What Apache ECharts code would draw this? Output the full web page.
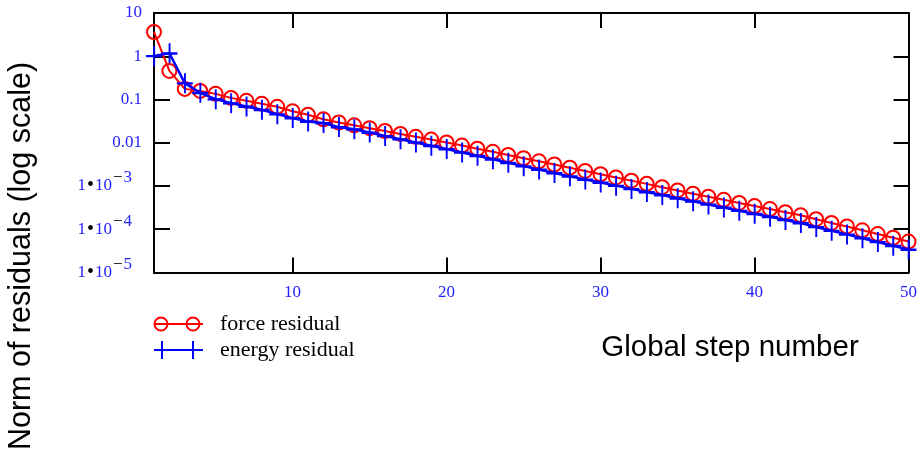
<!DOCTYPE html>
<html>
<head>
<meta charset="utf-8">
<script src="https://cdn.jsdelivr.net/npm/echarts@6/dist/echarts.min.js"></script>
<style>html,body{margin:0;padding:0;background:#fff;}#c{width:923px;height:452px;}</style>
</head>
<body>
<div id="c"></div>
<script>
// ---- data ----
var steps = [1,2,3,4,5,6,7,8,9,10,11,12,13,14,15,16,17,18,19,20,21,22,23,24,25,26,27,28,29,30,31,32,33,34,35,36,37,38,39,40,41,42,43,44,45,46,47,48,49,50];
var forceResidual = [3.64,0.458,0.176,0.158,0.135,0.109,0.0931,0.0794,0.0678,0.0533,
  0.0443,0.0348,0.0294,0.0253,0.0217,0.0187,0.0160,0.0137,0.01185,0.01016,
  0.00861,0.00726,0.00617,0.00522,0.00438,0.00372,0.00314,0.00265,0.00223,0.00187,
  0.00158,0.00133,0.00112,0.000940,0.000789,0.000665,0.000564,0.000479,0.000406,0.000344,
  0.000293,0.000248,0.000210,0.000171,0.000140,0.000116,0.0000946,0.0000773,0.0000635,0.0000519];
var energyResidual = [1.02,1.17,0.239,0.143,0.102,0.0824,0.0689,0.0577,0.0459,0.0371,
  0.0310,0.0285,0.0230,0.0205,0.01718,0.01441,0.01210,0.01016,0.00853,0.00716,
  0.00597,0.00498,0.00414,0.00345,0.00288,0.00241,0.00200,0.00167,0.00141,0.00120,
  0.00102,0.000857,0.000727,0.000617,0.000521,0.000442,0.000374,0.000318,0.000269,0.000227,
  0.000194,0.000164,0.000139,0.000113,0.0000926,0.0000761,0.0000621,0.0000508,0.0000415,0.0000339];
var xTicks = [10,20,30,40,50];
var yTicks = [10,1,0.1,0.01,0.001,0.0001,0.00001];
var seriesNames = ['force residual','energy residual'];
var xTitle = 'Global step number';
var yTitle = 'Norm of residuals (log scale)';

// ---- chart ----
var serif = '"Liberation Serif", "DejaVu Serif", serif';
var sans = '"Liberation Sans", Arial, sans-serif';
var BLUE = '#2222ff';
function zip(xs, ys){ return xs.map(function(x,i){ return [x, ys[i]]; }); }
function yLabel(v){
  var e = Math.round(Math.log10(v));
  if (e >= -2) { return '{n|' + (e >= 0 ? String(Math.pow(10,e)) : (e === -1 ? '0.1' : '0.01')) + '}'; }
  return '{b|1}{d|\u2022}{b|10}{m|\u2212}{e|' + (-e) + '}';
}
var chart = echarts.init(document.getElementById('c'), null, {renderer:'canvas'});
var axisLine = {show:true, lineStyle:{color:'#000', width:2}};
var tickStyle = {color:'#000', width:2};
chart.setOption({
  animation:false,
  backgroundColor:'#fff',
  grid:{left:154, right:14.5, top:13, bottom:179.5, containLabel:false},
  xAxis:[{
    type:'value', min:1, max:50, position:'bottom',
    axisLine:axisLine,
    axisTick:{show:true, inside:true, length:15, lineStyle:tickStyle, customValues:xTicks},
    axisLabel:{show:true, customValues:xTicks, color:BLUE, fontFamily:serif, fontSize:17, margin:12},
    splitLine:{show:false}
  },{
    type:'value', min:1, max:50, position:'top',
    axisLine:axisLine,
    axisTick:{show:true, inside:true, length:15, lineStyle:tickStyle, customValues:[10,20,30,40]},
    axisLabel:{show:false},
    splitLine:{show:false}
  }],
  yAxis:[{
    type:'log', logBase:10, min:0.00001, max:10, position:'left',
    axisLine:axisLine,
    axisTick:{show:true, inside:true, length:16, lineStyle:tickStyle, customValues:yTicks},
    axisLabel:{show:true, customValues:yTicks, margin:12, formatter:yLabel,
      rich:{
        n:{color:BLUE, fontFamily:serif, fontSize:17, lineHeight:17},
        b:{color:BLUE, fontFamily:serif, fontSize:17, lineHeight:17, verticalAlign:'middle'},
        d:{color:'#000', fontFamily:serif, fontSize:20, lineHeight:17, verticalAlign:'middle', padding:[0,1,0,1]},
        m:{color:'#000', fontFamily:serif, fontSize:17, lineHeight:17, verticalAlign:'middle', padding:[0,0,16,1]},
        e:{color:BLUE, fontFamily:serif, fontSize:17, lineHeight:17, verticalAlign:'middle', padding:[0,10,16,1]}
      }},
    splitLine:{show:false}
  },{
    type:'log', logBase:10, min:0.00001, max:10, position:'right',
    axisLine:axisLine,
    axisTick:{show:true, inside:true, length:15, lineStyle:tickStyle, customValues:yTicks},
    axisLabel:{show:false},
    splitLine:{show:false}
  }],
  legend:{
    orient:'vertical', left:153, top:313, padding:0, itemWidth:49, itemHeight:18, itemGap:4,
    textStyle:{color:'#000', fontFamily:serif, fontSize:22, padding:[0,0,0,12]},
    data:[
      {name:seriesNames[0], icon:'path://M0,7.5L49,7.5M0.5,7.5a6.5,6.5 0 1,0 13,0a6.5,6.5 0 1,0 -13,0M32.5,7.5a6.5,6.5 0 1,0 13,0a6.5,6.5 0 1,0 -13,0',
       itemStyle:{color:'rgba(0,0,0,0)', borderColor:'#ff0000', borderWidth:2}},
      {name:seriesNames[1], icon:'path://M0,9L49,9M8,0L8,18M39,0L39,18',
       itemStyle:{color:'rgba(0,0,0,0)', borderColor:'#0000ff', borderWidth:2}}
    ]
  },
  graphic:[
    {type:'text', x:730, y:348, style:{text:xTitle, font:'29.5px ' + sans, fill:'#000', textAlign:'center', textVerticalAlign:'middle'}},
    {type:'text', x:22, y:256, rotation:Math.PI/2, style:{text:yTitle, font:'30.5px ' + sans, fill:'#000', textAlign:'center', textVerticalAlign:'middle'}}
  ],
  series:[
    {
      name:seriesNames[0], type:'line', xAxisIndex:0, yAxisIndex:0,
      data:zip(steps, forceResidual),
      showAllSymbol:true, symbol:'circle', symbolSize:14,
      lineStyle:{color:'#ff0000', width:2},
      itemStyle:{color:'rgba(0,0,0,0)', borderColor:'#ff0000', borderWidth:2},
      z:2
    },
    {
      name:seriesNames[1], type:'line', xAxisIndex:0, yAxisIndex:0,
      data:zip(steps, energyResidual),
      showAllSymbol:true, symbol:'path://M9,0h2.4v9h8.6v2.4h-8.6v8.6h-2.4v-8.6h-9v-2.4h9z', symbolSize:[16,20], symbolKeepAspect:false,
      lineStyle:{color:'#0000ff', width:2.5},
      itemStyle:{color:'#0000ff'},
      z:3
    }
  ]
});
</script>
</body>
</html>
